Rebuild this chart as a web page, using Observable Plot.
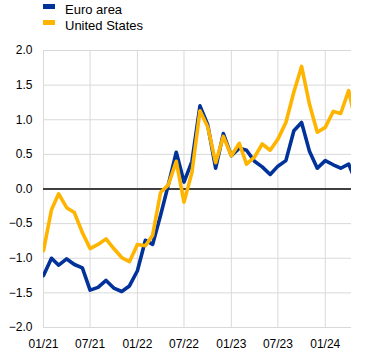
<!DOCTYPE html>
<html>
<head>
<meta charset="utf-8">
<script src="https://cdn.jsdelivr.net/npm/d3@7"></script>
<script src="https://cdn.jsdelivr.net/npm/@observablehq/plot@0.6"></script>
<style>
  html, body { margin: 0; padding: 0; background: #fff; }
  #wrap { position: relative; width: 371px; height: 355px; font-family: "Liberation Sans", Arial, sans-serif; }
  .leg { position: absolute; left: 0; font-size: 13px; line-height: 15px; color: #000; white-space: nowrap; }
  .sw { position: absolute; width: 12px; height: 5px; }
  #chart { position: absolute; left: 0; top: 0; }
</style>
</head>
<body>
<div id="wrap">
  <div id="chart"></div>
  <div class="sw" style="left:43px; top:4px; background:#003299;"></div>
  <div class="leg" style="left:65px; top:2px;">Euro area</div>
  <div class="sw" style="left:43px; top:20px; background:#ffb400;"></div>
  <div class="leg" style="left:65px; top:18px;">United States</div>
</div>
<script>
// Series (monthly, Jan 2021 onwards)
const seriesNames = ["Euro area", "United States"];
const seriesColors = ["#003299", "#ffb400"];
const startMonth = "2021-01";
const euroArea = [
  -1.25, -1.00, -1.10, -1.01, -1.09, -1.14, -1.46, -1.42, -1.32, -1.43, -1.48, -1.40,
  -1.18, -0.74, -0.80, -0.38, 0.06, 0.53, 0.10, 0.40, 1.20, 0.93, 0.30, 0.80,
  0.48, 0.59, 0.56, 0.40, 0.32, 0.21, 0.33, 0.41, 0.84, 0.96, 0.54, 0.30,
  0.41, 0.35, 0.30, 0.36, 0.09
];
const unitedStates = [
  -0.89, -0.30, -0.07, -0.27, -0.34, -0.63, -0.86, -0.80, -0.72, -0.86, -0.99, -1.05,
  -0.80, -0.82, -0.67, -0.05, 0.06, 0.40, -0.19, 0.24, 1.13, 0.90, 0.38, 0.76,
  0.48, 0.66, 0.36, 0.46, 0.65, 0.56, 0.72, 0.96, 1.40, 1.77, 1.22, 0.82,
  0.89, 1.12, 1.09, 1.42, 0.92
];
const xTickLabels = ["01/21", "07/21", "01/22", "07/22", "01/23", "07/23", "01/24"];
const yTicks = [-2.0, -1.5, -1.0, -0.5, 0.0, 0.5, 1.0, 1.5, 2.0];
const xDomainEnd = "2024-04-12";

const parseMonth = d3.utcParse("%Y-%m");
const parseLabel = d3.utcParse("%m/%y");
const start = parseMonth(startMonth);
const months = euroArea.map((_, i) => d3.utcMonth.offset(start, i));
const rows = [];
[euroArea, unitedStates].forEach((vals, s) => {
  vals.forEach((v, i) => rows.push({date: months[i], value: v, series: seriesNames[s]}));
});
const xTicks = xTickLabels.map(parseLabel);

const chart = Plot.plot({
  width: 371,
  height: 355,
  marginLeft: 43,
  marginRight: 20,
  marginTop: 50,
  marginBottom: 28,
  style: {fontFamily: "'Liberation Sans', Arial, sans-serif", fontSize: "12px", color: "#000", background: "transparent"},
  x: {type: "utc", domain: [start, d3.utcParse("%Y-%m-%d")(xDomainEnd)]},
  y: {domain: [-2, 2]},
  color: {domain: seriesNames, range: seriesColors},
  marks: [
    Plot.gridY(yTicks, {stroke: "#d9d9d9", strokeOpacity: 1, strokeWidth: 1}),
    Plot.gridX(xTicks, {stroke: "#d9d9d9", strokeOpacity: 1, strokeWidth: 1}),
    Plot.ruleY([0], {stroke: "#404040", strokeWidth: 2}),
    Plot.line(rows, {x: "date", y: "value", z: "series", stroke: "series", strokeWidth: 3.6, clip: true}),
    Plot.axisY(yTicks, {tickSize: 0, tickPadding: 11, tickFormat: d3.format(".1f"), label: null, fill: "#000"}),
    Plot.axisX(xTicks, {tickSize: 0, tickPadding: 12, tickFormat: d3.utcFormat("%m/%y"), label: null, fill: "#000"})
  ]
});
document.getElementById("chart").appendChild(chart);
</script>
</body>
</html>
